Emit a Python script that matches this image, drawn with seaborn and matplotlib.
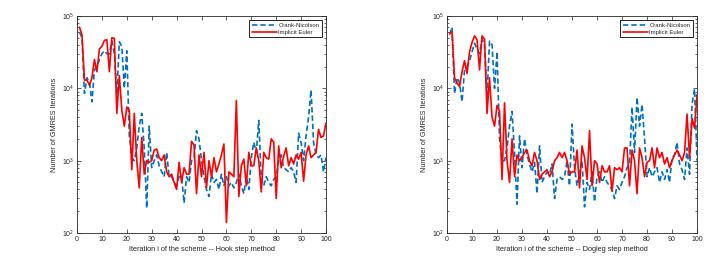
import numpy as np
import pandas as pd
import seaborn as sns
import matplotlib
matplotlib.use("Agg")
import matplotlib.pyplot as plt

iters = list(range(1, 101))

# Hook step method
hook_cn = [60000, 50000, 8500, 14000, 12000, 6500, 18000, 20000, 25000, 30000,
           33000, 30000, 30000, 45000, 30000, 8000, 44000, 38000, 10000, 33000,
           2200, 1100, 1000, 1500, 3000, 4500, 1500, 220, 3000, 800,
           1000, 1200, 850, 700, 600, 1300, 600, 600, 500, 450,
           600, 600, 260, 600, 500, 1000, 1100, 2600, 2000, 1000,
           600, 400, 320, 650, 500, 550, 400, 650, 450, 600,
           450, 500, 420, 500, 650, 450, 350, 600, 400, 1100,
           1800, 1300, 3600, 550, 450, 600, 500, 450, 550, 600,
           1000, 1200, 800, 750, 700, 800, 700, 500, 2400, 1800,
           1000, 2200, 4000, 9500, 1800, 1200, 1100, 1200, 700, 1100]
hook_ie = [70000, 55000, 13000, 13000, 11000, 14000, 25000, 17000, 35000, 38000,
           46000, 47000, 17000, 50000, 49000, 4500, 15000, 5000, 3000, 5500,
           5000, 750, 4500, 1000, 420, 2100, 650, 1000, 950, 1000,
           1400, 1450, 1100, 1000, 1200, 700, 600, 650, 500, 400,
           950, 500, 800, 650, 650, 1850, 1650, 350, 1200, 600,
           1300, 420, 1000, 600, 1100, 700, 900, 1200, 1700, 140,
           700, 650, 600, 6800, 320, 850, 1050, 450, 1300, 850,
           850, 1500, 1000, 370, 1300, 1100, 1050, 2000, 1800, 300,
           1600, 800, 1150, 1500, 850, 1100, 900, 1200, 1050, 1300,
           520, 1200, 1600, 1100, 1200, 1300, 2700, 2100, 2200, 3300]

# Dogleg step method
dog_cn = [55000, 70000, 8500, 14000, 12000, 6500, 18000, 20000, 24000, 32000,
          42000, 35000, 30000, 48000, 40000, 8000, 45000, 40000, 10000, 32000,
          2000, 1000, 1000, 1500, 3000, 4800, 1300, 250, 2200, 800,
          2000, 1200, 900, 700, 950, 350, 1600, 500, 600, 700,
          650, 900, 300, 550, 600, 550, 600, 1000, 450, 3200,
          800, 450, 650, 1000, 230, 500, 400, 700, 270, 600,
          700, 500, 600, 500, 450, 400, 300, 450, 400, 500,
          600, 800, 900, 5500, 1300, 7500, 3000, 6000, 2000, 600,
          800, 600, 700, 800, 500, 700, 550, 750, 500, 1100,
          1200, 1800, 900, 750, 550, 1500, 650, 6000, 9800, 1000]
dog_ie = [58000, 60000, 14000, 12000, 10500, 17000, 24000, 16000, 32000, 43000,
          53000, 47000, 18000, 53000, 48000, 4500, 14000, 4000, 3000, 5800,
          4800, 550, 6300, 1000, 500, 2000, 600, 1200, 1000, 1100,
          1300, 1400, 1000, 850, 1300, 1000, 550, 650, 700, 750,
          600, 700, 1000, 1100, 1300, 1100, 1300, 1000, 650, 700,
          700, 1400, 420, 1600, 1100, 550, 2600, 450, 1000, 900,
          500, 850, 700, 700, 850, 380, 800, 750, 800, 700,
          1500, 1500, 450, 1400, 1000, 350, 1500, 1100, 600, 950,
          1000, 1500, 800, 1500, 1100, 1300, 900, 1100, 800, 1000,
          1200, 1400, 1200, 1000, 1300, 4400, 1100, 3800, 2800, 8200]

schemes = ["Crank-Nicolson", "Implicit Euler"]
palette = {"Crank-Nicolson": "#0072BD", "Implicit Euler": "#FF0000"}
dashes = {"Crank-Nicolson": (3.2, 1.8), "Implicit Euler": ""}

sns.set_style("ticks")
plt.rcParams["font.family"] = ["Liberation Sans", "DejaVu Sans"]

fig = plt.figure(figsize=(7.23, 2.72), dpi=100)
ax1 = fig.add_axes([0.1065, 0.1434, 0.3444, 0.7978])
ax2 = fig.add_axes([0.6183, 0.1434, 0.3458, 0.7978])

panels = [(ax1, hook_cn, hook_ie, "Iteration i of the scheme -- Hook step method"),
          (ax2, dog_cn, dog_ie, "Iteration i of the scheme -- Dogleg step method")]

for ax, cn, ie, xlabel in panels:
    df = pd.DataFrame({
        "iter": iters + iters,
        "gmres": cn + ie,
        "scheme": [schemes[0]] * len(cn) + [schemes[1]] * len(ie),
    })
    sns.lineplot(data=df, x="iter", y="gmres", hue="scheme", style="scheme",
                 palette=palette, dashes=dashes, linewidth=1.2, ax=ax)
    ax.set_yscale("log")
    ax.set_xlim(0, 100)
    ax.set_ylim(1e2, 1e5)
    ax.set_xticks(np.arange(0, 101, 10))
    ax.set_xlabel(xlabel, fontsize=5.3, labelpad=2.5)
    ax.set_ylabel("Number of GMRES Iterations", fontsize=5.2, labelpad=2.5)
    ax.tick_params(which="both", direction="in", top=True, right=True,
                   labelsize=5, width=0.5, pad=2)
    ax.tick_params(which="major", length=3)
    ax.tick_params(which="minor", length=1.5)
    for s in ax.spines.values():
        s.set_linewidth(0.6)
        s.set_color("#262626")
    leg = ax.legend(loc="upper right", prop={"size": 4.3}, frameon=True,
                    fancybox=False, edgecolor="black", framealpha=1,
                    handlelength=4.2, handletextpad=0.3, borderpad=0.4,
                    labelspacing=0.3, borderaxespad=0.7)
    leg.get_frame().set_linewidth(0.6)

fig.savefig("out.png", dpi=100)
